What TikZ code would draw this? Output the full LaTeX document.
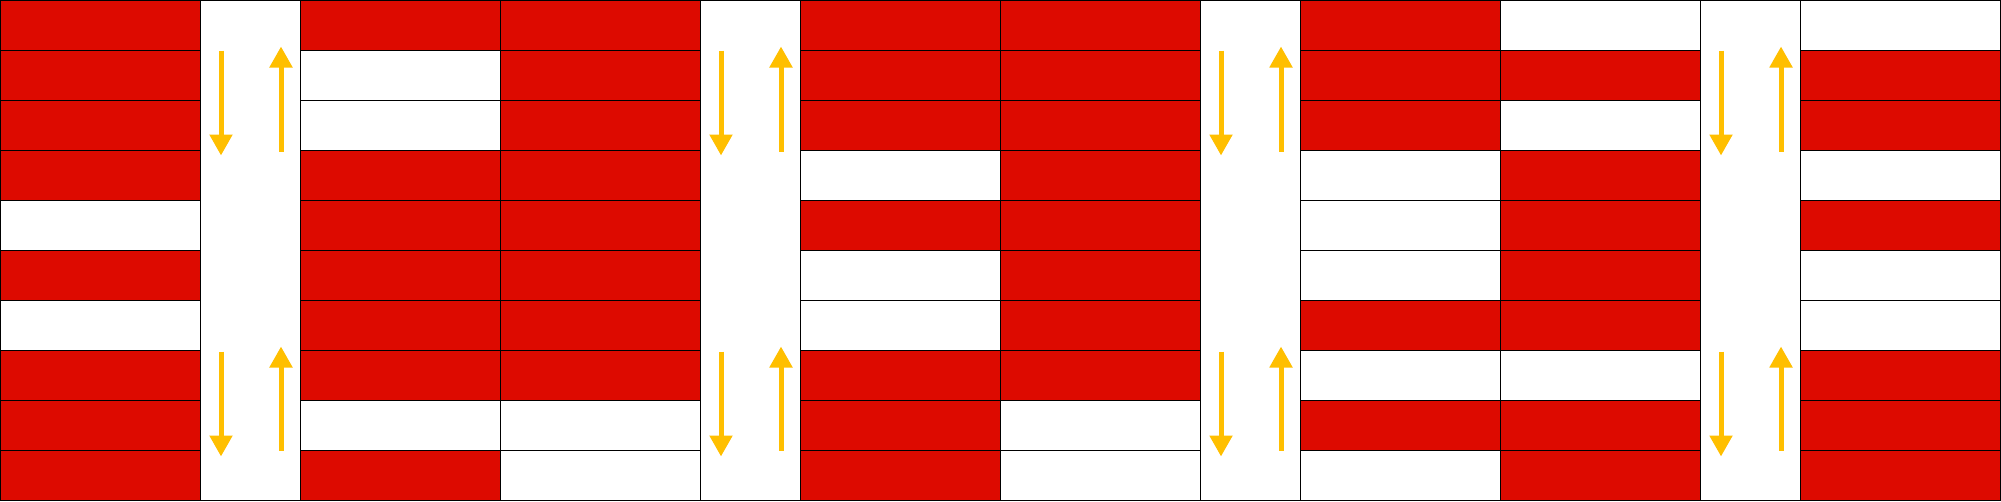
\documentclass[tikz,border=0pt]{standalone}
\usetikzlibrary{arrows.meta}
\definecolor{R}{HTML}{DD0A00}
\colorlet{W}{white}
\definecolor{arrcol}{HTML}{FFBF00}
\begin{document}
\begin{tikzpicture}[x=0.02cm,y=-0.02cm,
  cellbox/.style={draw=black,line width=0.02cm},
  arr/.style={draw=arrcol,line width=0.1cm,-{Triangle[width=0.44cm,length=0.42cm]}}]
\useasboundingbox (-0.5,-0.5) rectangle (2000.5,500.5);
% gaps
\foreach \g in {200,700,1200,1700}{
  \draw[cellbox,fill=white] (\g,0) rectangle ++(100,500);
  \draw[arr] (\g+20.5,50) -- (\g+20.5,155);
  \draw[arr] (\g+80.5,151) -- (\g+80.5,46);
  \draw[arr] (\g+20.5,351) -- (\g+20.5,456);
  \draw[arr] (\g+80.5,450) -- (\g+80.5,346);
}
% columns
\foreach \x/\cols in {
  0/{R,R,R,R,W,R,W,R,R,R},
  300/{R,W,W,R,R,R,R,R,W,R},
  500/{R,R,R,R,R,R,R,R,W,W},
  800/{R,R,R,W,R,W,W,R,R,R},
  1000/{R,R,R,R,R,R,R,R,W,W},
  1300/{R,R,R,W,W,W,R,W,R,W},
  1500/{W,R,W,R,R,R,R,W,R,R},
  1800/{W,R,R,W,R,W,W,R,R,R}}{
  \foreach \c [count=\i from 0] in \cols {
    \draw[cellbox,fill=\c] (\x,\i*50) rectangle ++(200,50);
  }
}
\end{tikzpicture}
\end{document}
